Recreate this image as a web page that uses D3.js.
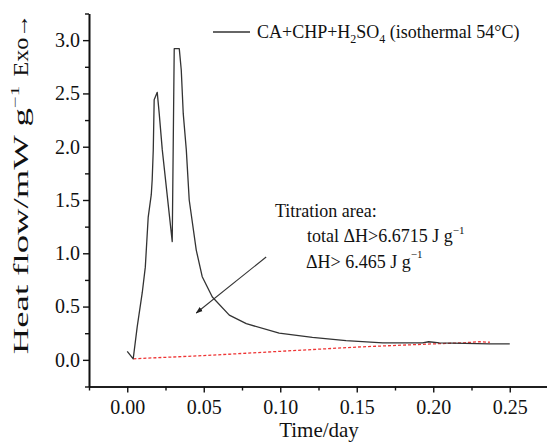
<!DOCTYPE html>
<html><head><meta charset="utf-8">
<script src="https://cdn.jsdelivr.net/npm/d3@7"></script>
<style>
html,body{margin:0;padding:0;background:#fff;}
svg text{font-family:"Liberation Serif","Times New Roman",serif !important;}
</style></head>
<body>
<svg id="c" width="547" height="444"></svg>
<script>
// ---- data ----
const timeDay = [0.000,0.0039,0.0065,0.0098,0.0118,0.0137,0.0157,0.0163,0.0170,0.0176,0.0196,0.0209,0.0229,0.0294,0.0307,0.0340,0.0353,0.0366,0.0386,0.0405,0.0451,0.0490,0.0556,0.0667,0.0778,0.0993,0.121,0.143,0.167,0.193,0.197,0.204,0.237,0.250];
const heatFlow = [0.08,0.01,0.31,0.63,0.87,1.34,1.55,1.69,1.97,2.44,2.51,2.31,1.97,1.11,2.92,2.92,2.72,2.31,1.97,1.50,1.03,0.78,0.59,0.42,0.34,0.25,0.21,0.18,0.16,0.16,0.17,0.16,0.15,0.15];
const baseTime = [0.004,0.05,0.10,0.15,0.20,0.220,0.230,0.237];
const baseFlow = [0.01,0.04,0.08,0.12,0.15,0.16,0.17,0.165];
const xTickVals = [0,0.05,0.10,0.15,0.20,0.25];
const xMinorVals = [-0.025,0.025,0.075,0.125,0.175,0.225,0.275];
const yTickVals = [0,0.5,1.0,1.5,2.0,2.5,3.0];
const yMinorVals = [-0.25,0.25,0.75,1.25,1.75,2.25,2.75,3.25];
const arrowFrom = [0.0908,0.965];
const arrowTo = [0.0451,0.44];

const svg = d3.select("#c");
const x = d3.scaleLinear().domain([-0.025,0.275]).range([89,548]);
const y = d3.scaleLinear().domain([-0.25,3.25]).range([386.5,13.5]);

svg.append("defs").append("marker").attr("id","ah").attr("viewBox","0 0 10 10")
  .attr("refX",9).attr("refY",5).attr("markerWidth",7).attr("markerHeight",7)
  .attr("orient","auto").attr("markerUnits","userSpaceOnUse")
  .append("path").attr("d","M0,1.5 L10,5 L0,8.5 Z").attr("fill","#222");

// axes
const xAx = svg.append("g").attr("transform","translate(0,386.5)")
  .call(d3.axisBottom(x).tickValues(xTickVals).tickFormat(d3.format(".2f")).tickSizeOuter(0).tickSizeInner(6).tickPadding(6));
const xAxMinor = svg.append("g").attr("transform","translate(0,386.5)")
  .call(d3.axisBottom(x).tickValues(xMinorVals).tickFormat("").tickSizeOuter(0).tickSizeInner(4));
const yAx = svg.append("g").attr("transform","translate(89,0)")
  .call(d3.axisLeft(y).tickValues(yTickVals).tickFormat(d3.format(".1f")).tickSizeOuter(0).tickSizeInner(6).tickPadding(3));
const yAxMinor = svg.append("g").attr("transform","translate(89,0)")
  .call(d3.axisLeft(y).tickValues(yMinorVals).tickFormat("").tickSizeOuter(0).tickSizeInner(4));
[xAx,xAxMinor,yAx,yAxMinor].forEach(g=>{
  g.attr("font-family",null);
  g.select(".domain").attr("stroke","#111").attr("stroke-width",1.6);
  g.selectAll(".tick line").attr("stroke","#111").attr("stroke-width",1.4);
  g.selectAll("text").attr("fill","#111").style("font-size","20px");
});
xAx.selectAll("text").attr("dy","0.75em");

// baseline
const line = d3.line().x(d=>x(d[0])).y(d=>y(d[1]));
svg.append("path").datum(d3.zip(baseTime,baseFlow)).attr("d",line)
  .attr("fill","none").attr("stroke","#ee3333").attr("stroke-width",1.3).attr("stroke-dasharray","3,2");
// curve
svg.append("path").datum(d3.zip(timeDay,heatFlow)).attr("d",line)
  .attr("fill","none").attr("stroke","#333").attr("stroke-width",1.3).attr("stroke-linejoin","round");

// arrow
svg.append("line").attr("x1",x(arrowFrom[0])).attr("y1",y(arrowFrom[1]))
  .attr("x2",x(arrowTo[0])).attr("y2",y(arrowTo[1]))
  .attr("stroke","#333").attr("stroke-width",1.1).attr("marker-end","url(#ah)");

// legend
svg.append("line").attr("x1",213).attr("x2",250).attr("y1",32).attr("y2",32).attr("stroke","#333").attr("stroke-width",1.3);
const lt = svg.append("text").attr("x",257).attr("y",38).attr("font-size",18).attr("fill","#111");
lt.append("tspan").text("CA+CHP+H");
lt.append("tspan").attr("dy",5).attr("font-size",12).text("2");
lt.append("tspan").attr("dy",-5).text("SO");
lt.append("tspan").attr("dy",5).attr("font-size",12).text("4");
lt.append("tspan").attr("dy",-5).text(" (isothermal 54°C)");

// annotations
svg.append("text").attr("x",275).attr("y",217).attr("font-size",18).attr("fill","#111").text("Titration area:");
const a1 = svg.append("text").attr("x",307).attr("y",242).attr("font-size",18).attr("fill","#111");
a1.append("tspan").text("total ΔH>6.6715 J g");
a1.append("tspan").attr("dy",-8).attr("font-size",11).text("−1");
const a2 = svg.append("text").attr("x",306).attr("y",268).attr("font-size",18).attr("fill","#111");
a2.append("tspan").text("ΔH> 6.465 J g");
a2.append("tspan").attr("dy",-10).attr("font-size",11).text("−1");

// axis titles
svg.append("text").attr("x",319).attr("y",437).attr("text-anchor","middle").attr("font-size",21).attr("fill","#111").text("Time/day");
const yt = svg.append("text").attr("transform","translate(28,220) rotate(-90) scale(1.75,1)").attr("text-anchor","middle").attr("font-size",21).attr("fill","#111");
yt.append("tspan").text("Heat flow/mW g");
yt.append("tspan").attr("dy",-9).attr("font-size",12).text("−1");
svg.append("text").attr("transform","translate(28,45) rotate(-90) scale(1.15,1)").attr("text-anchor","middle").attr("font-size",21).attr("fill","#111").text("Exo→");
</script>
</body></html>
